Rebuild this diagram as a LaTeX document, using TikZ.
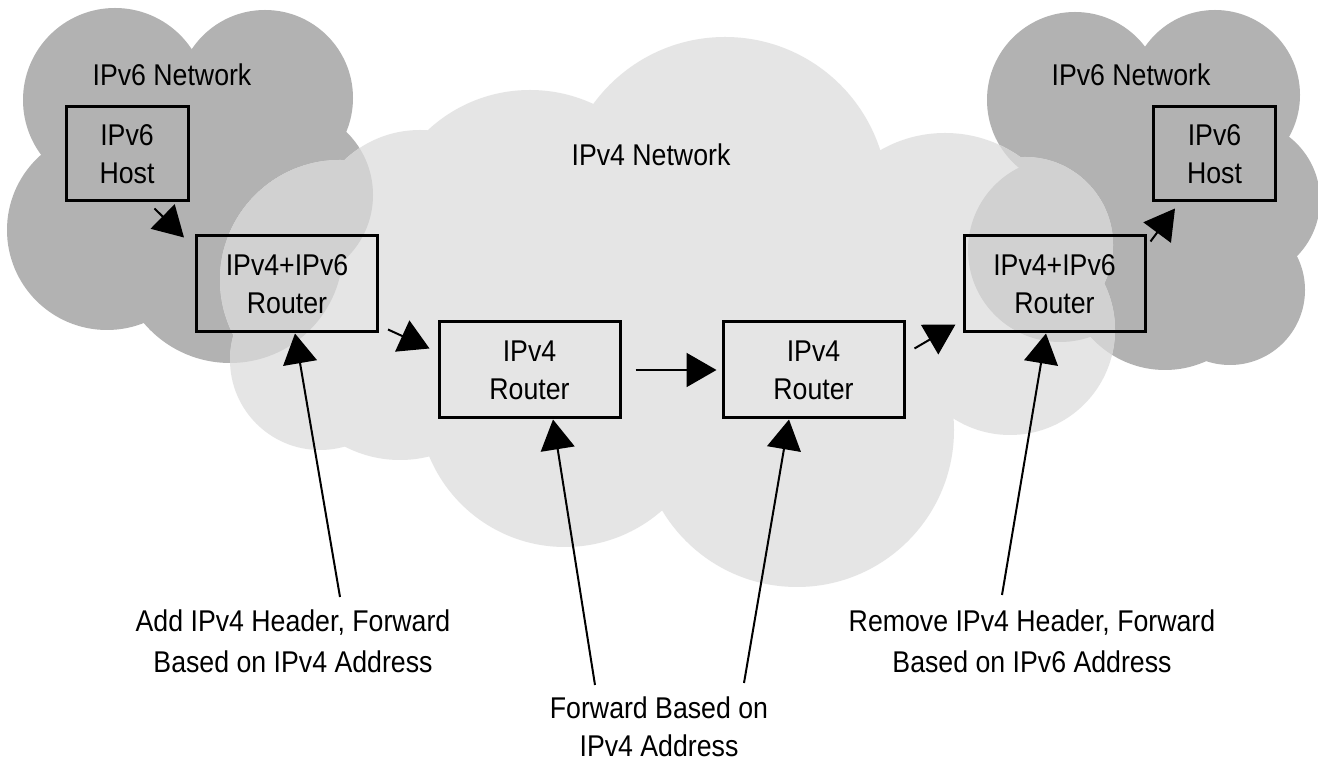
\documentclass[tikz,border=0pt]{standalone}
\usepackage{fontspec}
\setmainfont{Liberation Sans}[FakeStretch=0.89]
\usetikzlibrary{arrows.meta, positioning}

\definecolor{netdark}{gray}{0.70}
\definecolor{netlight}{gray}{0.90}
\definecolor{netmix}{gray}{0.82}

%% cloud lobes, x/y/radius in picture units
\def\leftlobes{115/100/92, 265/98/88, 107/230/100, 230/250/113, 200/180/100, 285/195/88}
\def\rightlobes{1075/100/88, 1060/250/92, 1215/95/85, 1240/200/80, 1165/270/100, 1150/180/100, 1230/290/75}
\def\midlobes{340/280/120, 320/360/90, 400/340/120, 420/240/110, 530/240/150, 725/200/163,
  945/263/130, 1025/245/88, 565/400/147, 797/430/157, 1010/330/105, 650/330/180}

\begin{document}
\begin{tikzpicture}[
  x=0.5pt, y=-0.5pt,
  every node/.style={font=\fontsize{15}{19}\selectfont, align=center},
  box/.style    ={draw, line width=1.5pt, inner sep=0pt},
  hostbox/.style={box, minimum width=61pt,   minimum height=47pt},
  rtrbox/.style ={box, minimum width=90.5pt, minimum height=48pt},
  note/.style   ={font=\fontsize{15}{20.5}\selectfont},
  flow/.style   ={-{Triangle[length=15pt,width=17pt]}, line width=1pt}
]
\path[use as bounding box, fill=white] (0,0) rectangle (1318,763);

%% Clouds: IPv6 networks dark, IPv4 network light, overlap in between
\foreach \x/\y/\r in \leftlobes  {\fill[netdark] (\x,\y) circle (\r);}
\foreach \x/\y/\r in \rightlobes {\fill[netdark] (\x,\y) circle (\r);}
\foreach \x/\y/\r in \midlobes   {\fill[netlight] (\x,\y) circle (\r);}
\begin{scope}
  \clip \foreach \x/\y/\r in \midlobes {(\x,\y) circle (\r)};
  \foreach \x/\y/\r in \leftlobes  {\fill[netmix] (\x,\y) circle (\r);}
  \foreach \x/\y/\r in \rightlobes {\fill[netmix] (\x,\y) circle (\r);}
\end{scope}

%% Network names
\node (v6netl) at (172,75)  {IPv6 Network};
\node (v4net)  at (651,155) {IPv4 Network};
\node (v6netr) at (1131,75) {IPv6 Network};

%% Hosts and routers
\node[hostbox] (host6l) at (127,154)    {IPv6\\Host};
\node[rtrbox]  (rtr46l) at (287,284)    {IPv4+IPv6\\Router};
\node[rtrbox]  (rtr4a)  at (529.5,370)  {IPv4\\Router};
\node[rtrbox, right=50pt of rtr4a] (rtr4b) {IPv4\\Router};
\node[rtrbox]  (rtr46r) at (1054.5,284) {IPv4+IPv6\\Router};
\node[hostbox] (host6r) at (1214.5,154) {IPv6\\Host};

%% Notes below the clouds
\node[note] (lbladd) at (293,641)  {Add IPv4 Header, Forward\\Based on IPv4 Address};
\node[note, font=\fontsize{15}{19}\selectfont] (lblfwd) at (659,727) {Forward Based on\\IPv4 Address};
\node[note] (lblrem) at (1032,641) {Remove IPv4 Header, Forward\\Based on IPv6 Address};
\coordinate (addtail)  at (340,597);
\coordinate (fwdtaila) at (595,685);
\coordinate (fwdtailb) at (744,683);
\coordinate (remtail)  at (1002,595);

%% Packet path
\draw[flow] ([xshift=-17.5pt,yshift=-3pt]host6l.south east) -- ([xshift=-5.5pt,yshift=-1.5pt]rtr46l.north west);
\draw[flow] ([xshift=4.5pt,yshift=2pt]rtr46l.south east) -- ([xshift=-4pt,yshift=-14pt]rtr4a.north west);
\draw[flow] ([xshift=7pt]rtr4a.east) -- ([xshift=-2.5pt]rtr4b.west);
\draw[flow] ([xshift=4.5pt,yshift=-14pt]rtr4b.north east) -- ([xshift=-3.5pt,yshift=4.5pt]rtr46r.south west);
\draw[flow] ([xshift=2pt,yshift=-3.5pt]rtr46r.north east) -- ([xshift=11.5pt,yshift=-3pt]host6r.south west);

%% Notes to routers
\draw[flow] (addtail)  -- ([xshift=4pt]rtr46l.south);
\draw[flow] (fwdtaila) -- ([xshift=11.75pt]rtr4a.south);
\draw[flow] (fwdtailb) -- ([xshift=-12.25pt]rtr4b.south);
\draw[flow] (remtail)  -- ([xshift=-4.25pt]rtr46r.south);

\end{tikzpicture}
\end{document}
